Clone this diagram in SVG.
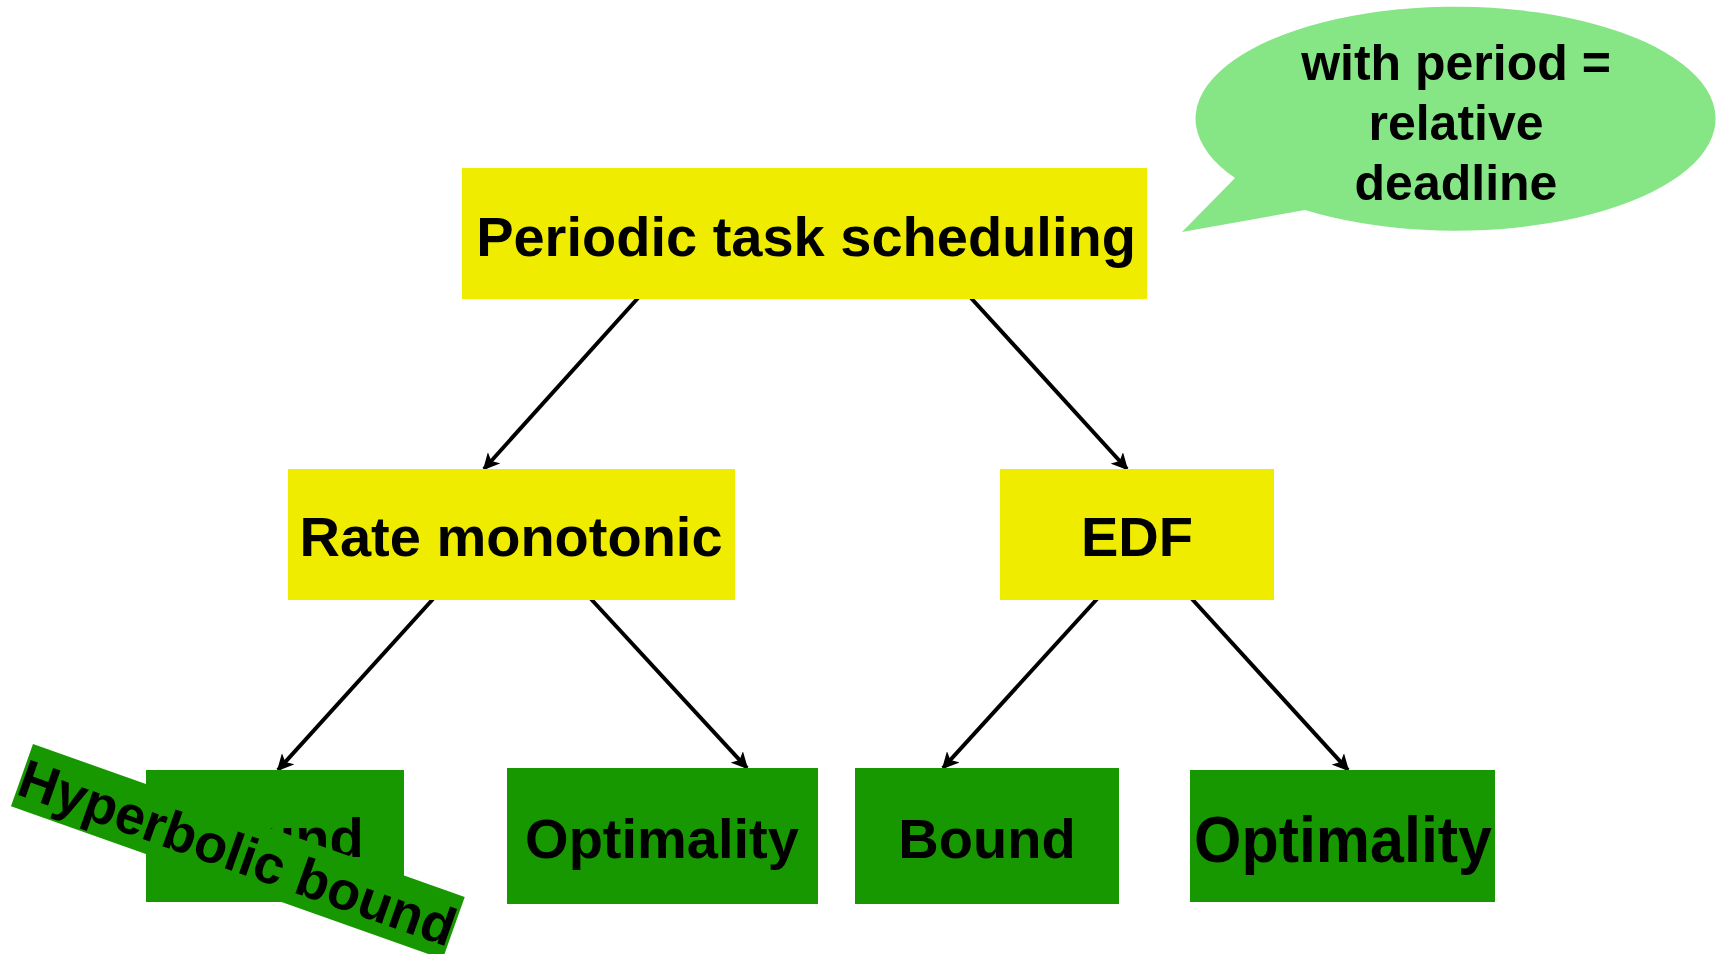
<svg xmlns="http://www.w3.org/2000/svg" width="1716" height="954" viewBox="0 0 1716 954">
  <style>
    .lbl { font-family: "Liberation Sans", Arial, sans-serif; font-weight: bold; fill: #000; text-anchor: middle; }
    .yellow { fill: #F0EC00; }
    .green { fill: #189800; }
    .conn { stroke: #000; stroke-width: 4; fill: none; marker-end: url(#arrow); }
  </style>
  <defs>
    <marker id="arrow" viewBox="0 0 10 10" refX="9" refY="5" markerWidth="4.2" markerHeight="4.2" orient="auto" markerUnits="strokeWidth">
      <path d="M0,0 L10,5 L0,10 L2.5,5 Z" fill="#000"/>
    </marker>
  </defs>
  <rect width="1716" height="954" fill="#fff"/>

  <!-- speech bubble note -->
  <g id="note">
    <path d="M1235,178 L1182,232 L1305,210 A260,112 0 1 0 1235,178 Z" fill="#86E686"/>
    <text class="lbl" font-size="50" x="1456" y="80">with period =</text>
    <text class="lbl" font-size="50" x="1456" y="140">relative</text>
    <text class="lbl" font-size="50" x="1456" y="200">deadline</text>
  </g>

  <g id="connectors">
    <line class="conn" x1="638" y1="298" x2="484" y2="469"/>
    <line class="conn" x1="971" y1="298" x2="1127" y2="469"/>
    <line class="conn" x1="433" y1="599" x2="278" y2="770"/>
    <line class="conn" x1="591" y1="599" x2="747" y2="768"/>
    <line class="conn" x1="1097" y1="599" x2="943" y2="768"/>
    <line class="conn" x1="1192" y1="599" x2="1348" y2="770"/>
  </g>

  <g id="periodic">
    <rect class="yellow" x="462" y="168" width="685" height="131"/>
    <text class="lbl" font-size="56" x="806" y="256">Periodic task scheduling</text>
  </g>

  <g id="rate-monotonic">
    <rect class="yellow" x="288" y="469" width="447" height="131"/>
    <text class="lbl" font-size="56" x="511" y="556">Rate monotonic</text>
  </g>

  <g id="edf">
    <rect class="yellow" x="1000" y="469" width="274" height="131"/>
    <text class="lbl" font-size="56" x="1137" y="556">EDF</text>
  </g>

  <g id="rm-bound">
    <rect class="green" x="146" y="770" width="258" height="132"/>
    <text class="lbl" font-size="56" x="275" y="857">Bound</text>
  </g>

  <g id="rm-optimality">
    <rect class="green" x="507" y="768" width="311" height="136"/>
    <text class="lbl" font-size="56" x="662" y="858">Optimality</text>
  </g>

  <g id="edf-bound">
    <rect class="green" x="855" y="768" width="264" height="136"/>
    <text class="lbl" font-size="56" x="987" y="858">Bound</text>
  </g>

  <g id="edf-optimality">
    <rect class="green" x="1190" y="770" width="305" height="132"/>
    <text class="lbl" font-size="64" x="1343" y="862" textLength="298" lengthAdjust="spacingAndGlyphs">Optimality</text>
  </g>

  <g id="hyperbolic-bound" transform="translate(33,744) rotate(19.5)">
    <rect class="green" x="0" y="0" width="458" height="66"/>
    <text class="lbl" font-size="54" x="229" y="53">Hyperbolic bound</text>
  </g>
</svg>
